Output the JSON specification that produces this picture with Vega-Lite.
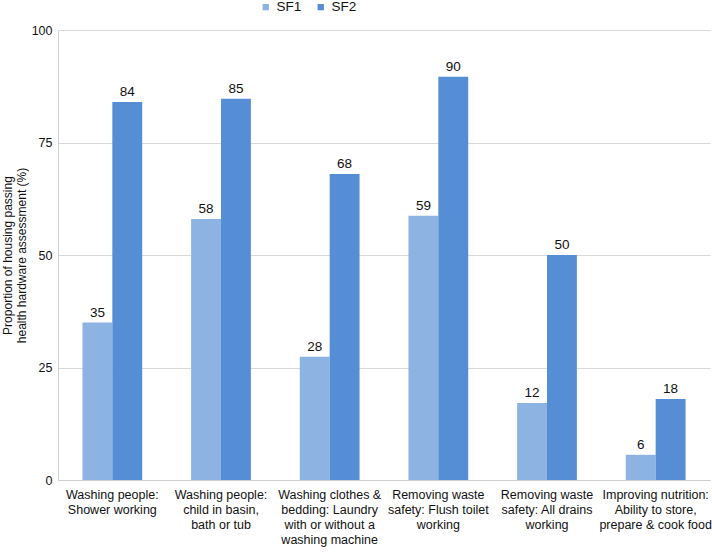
{
  "$schema": "https://vega.github.io/schema/vega-lite/v6.json",
  "width": 652,
  "height": 450,
  "autosize": "none",
  "padding": {"left": 58, "top": 30, "right": 2, "bottom": 74},
  "background": "white",
  "config": {
    "font": "Liberation Sans",
    "view": {"stroke": null},
    "axis": {"labelColor": "#111", "titleColor": "#111", "domainColor": "#d0d0d0", "gridColor": "#d9d9d9", "ticks": false}
  },
  "data": {
    "values": [
      {"cat": "Washing people:|Shower working", "series": "SF1", "value": 35, "label": "35"},
      {"cat": "Washing people:|Shower working", "series": "SF2", "value": 84, "label": "84"},
      {"cat": "Washing people:|child in basin,|bath or tub", "series": "SF1", "value": 58, "label": "58"},
      {"cat": "Washing people:|child in basin,|bath or tub", "series": "SF2", "value": 84.7, "label": "85"},
      {"cat": "Washing clothes &|bedding: Laundry|with or without a|washing machine", "series": "SF1", "value": 27.4, "label": "28"},
      {"cat": "Washing clothes &|bedding: Laundry|with or without a|washing machine", "series": "SF2", "value": 68, "label": "68"},
      {"cat": "Removing waste|safety: Flush toilet|working", "series": "SF1", "value": 58.7, "label": "59"},
      {"cat": "Removing waste|safety: Flush toilet|working", "series": "SF2", "value": 89.6, "label": "90"},
      {"cat": "Removing waste|safety: All drains|working", "series": "SF1", "value": 17.1, "label": "12"},
      {"cat": "Removing waste|safety: All drains|working", "series": "SF2", "value": 50, "label": "50"},
      {"cat": "Improving nutrition:|Ability to store,|prepare & cook food", "series": "SF1", "value": 5.6, "label": "6"},
      {"cat": "Improving nutrition:|Ability to store,|prepare & cook food", "series": "SF2", "value": 18, "label": "18"}
    ]
  },
  "encoding": {
    "x": {
      "field": "cat", "type": "nominal", "sort": null,
      "scale": {"paddingInner": 0.45, "paddingOuter": 0.225},
      "axis": {"title": null, "labelAngle": 0, "labelExpr": "split(datum.value, '|')", "labelFontSize": 12.5, "labelLineHeight": 15, "labelPadding": 8, "labelLimit": 0, "domain": true}
    },
    "xOffset": {"field": "series", "type": "nominal"},
    "y": {
      "field": "value", "type": "quantitative",
      "scale": {"domain": [0, 100], "nice": false},
      "axis": {"values": [0, 25, 50, 75, 100], "title": ["Proportion of housing passing", "health hardware assessment (%)"], "titleFontSize": 12, "titleFontWeight": "normal", "titleLineHeight": 14, "titlePadding": 3, "labelFontSize": 12.5, "labelPadding": 6, "grid": true, "domain": true}
    }
  },
  "layer": [
    {
      "mark": {"type": "bar"},
      "encoding": {
        "color": {
          "field": "series", "type": "nominal",
          "scale": {"domain": ["SF1", "SF2"], "range": ["#8db3e2", "#558ed5"]},
          "legend": {"title": null, "orient": "none", "legendX": 201, "legendY": -30, "direction": "horizontal", "symbolType": "square", "symbolSize": 40, "labelFontSize": 13.5, "labelColor": "#111", "columnPadding": 12}
        }
      }
    },
    {
      "mark": {"type": "text", "dy": -10, "fontSize": 13.5, "color": "#111"},
      "encoding": {"text": {"field": "label"}}
    }
  ]
}
